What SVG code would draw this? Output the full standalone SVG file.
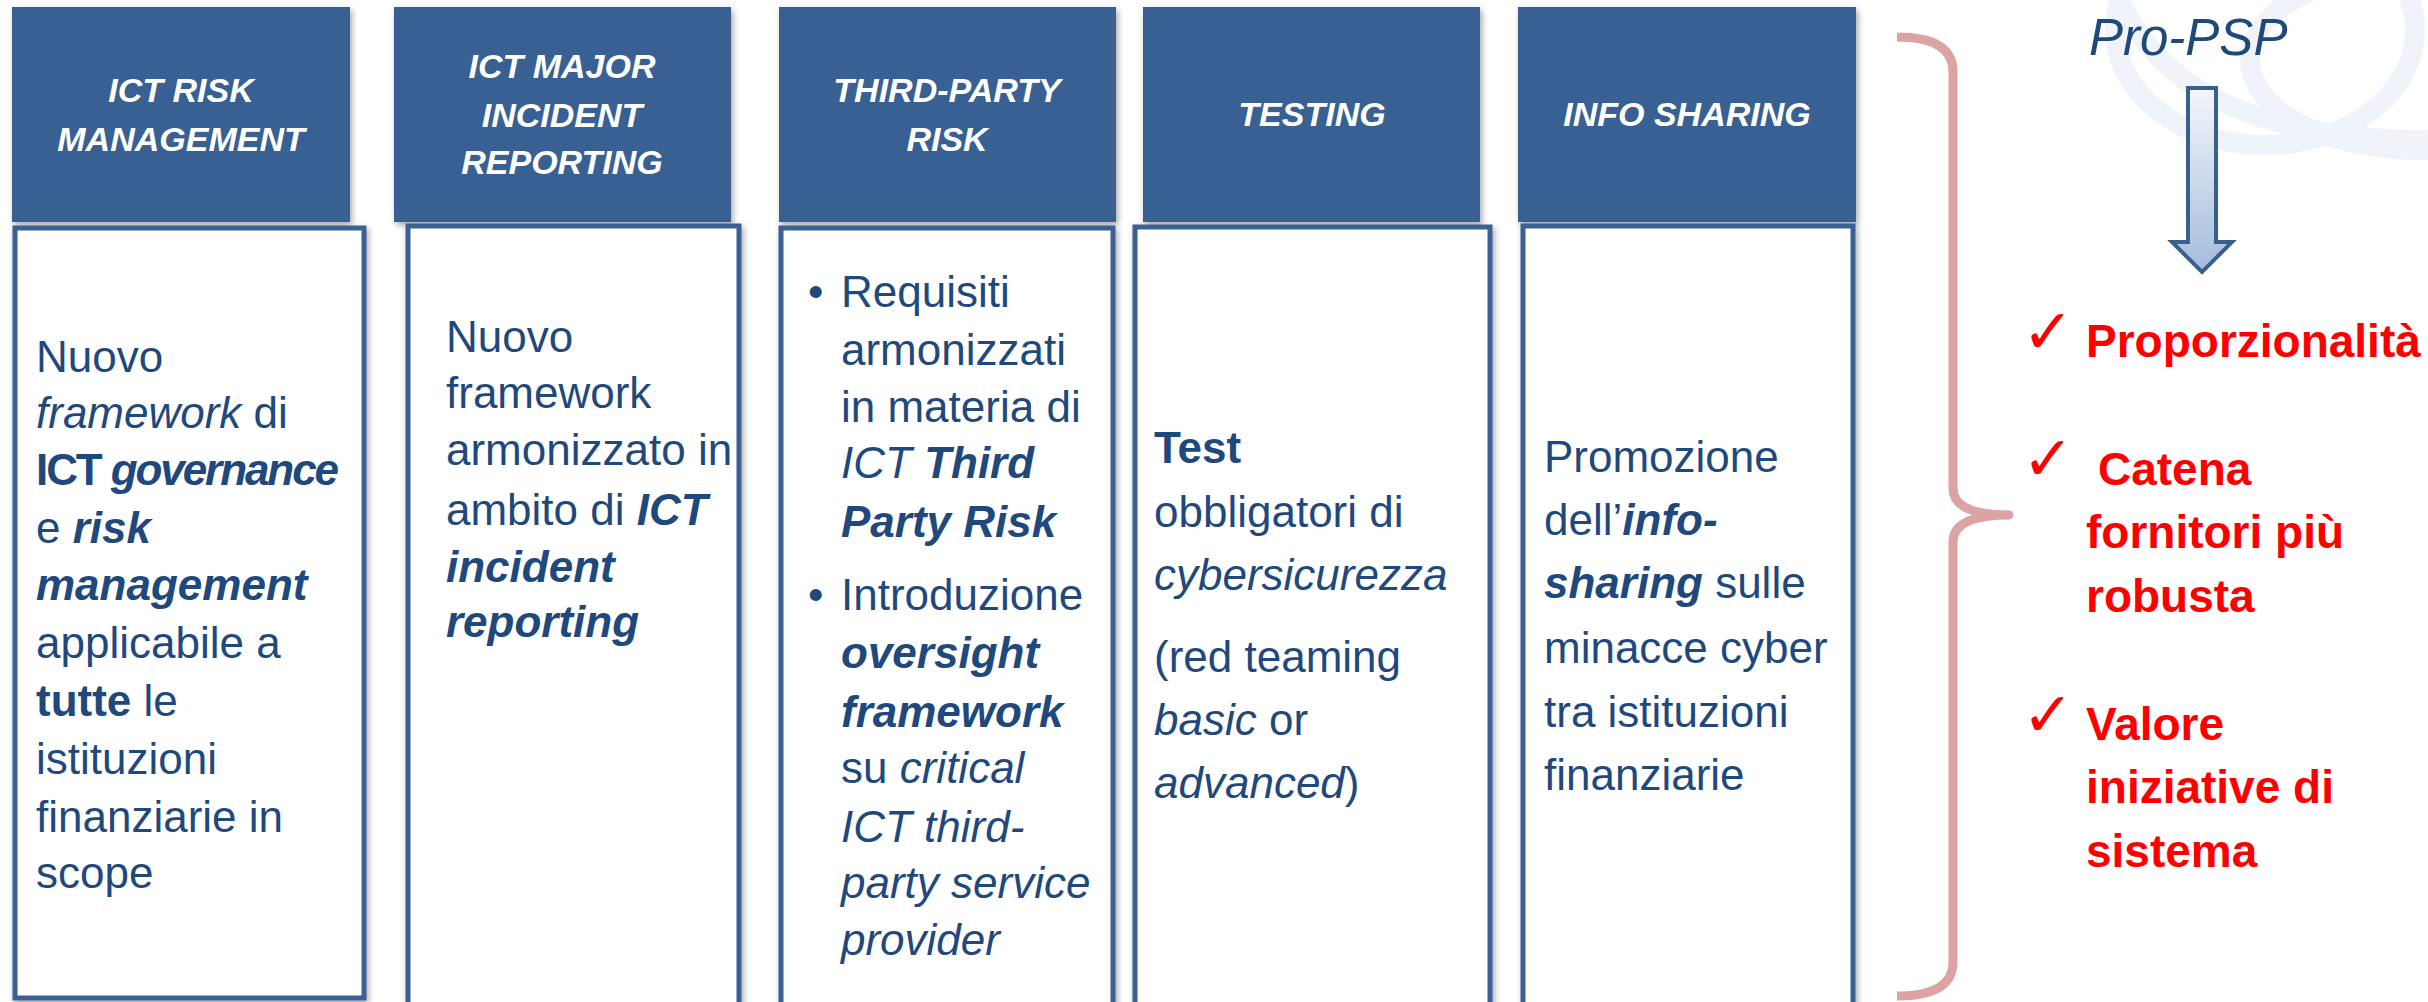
<svg xmlns="http://www.w3.org/2000/svg" width="2428" height="1002" viewBox="0 0 2428 1002">
<defs>
<style>
.hdr{fill:#376092;}
.body{fill:#ffffff;stroke:#3A6194;stroke-width:5;}
.ht{font-family:"Liberation Sans",Arial,sans-serif;font-size:34px;font-weight:bold;font-style:italic;fill:#ffffff;text-anchor:middle;}
.t{font-family:"Liberation Sans",Arial,sans-serif;font-size:44px;fill:#1F497D;}
.i{font-style:italic;}
.b{font-weight:bold;}
.bi{font-weight:bold;font-style:italic;}
.red{font-family:"Liberation Sans",Arial,sans-serif;font-size:46px;font-weight:bold;fill:#FF0000;}
.chk{font-family:"DejaVu Sans",sans-serif;font-size:62px;fill:#FF0000;}
.wm{fill:none;stroke:#EDF2F9;stroke-width:20;}
</style>
<filter id="sh" x="-5%" y="-5%" width="112%" height="112%">
<feDropShadow dx="2" dy="3" stdDeviation="3" flood-color="#000000" flood-opacity="0.35"/>
</filter>
<linearGradient id="ag" x1="0" y1="0" x2="0" y2="1">
<stop offset="0" stop-color="#F4F7FB"/>
<stop offset="1" stop-color="#A3BCDC"/>
</linearGradient>
</defs>
<rect x="0" y="0" width="2428" height="1002" fill="#ffffff"/>
<g id="watermark" opacity="0.8">
<ellipse class="wm" cx="2265" cy="30" rx="150" ry="115"/>
<ellipse class="wm" cx="2420" cy="60" rx="170" ry="90"/>
<path class="wm" d="M2120,0 C2160,90 2260,140 2428,140"/>
</g>

<g id="col1">
<rect class="hdr" x="12" y="7" width="338" height="215" filter="url(#sh)"/>
<text class="ht" x="181" y="102">ICT RISK</text>
<text class="ht" x="181" y="151">MANAGEMENT</text>
<rect class="body" x="15" y="228" width="349" height="770" filter="url(#sh)"/>
<text class="t" x="36" y="372">Nuovo</text>
<text class="t" x="36" y="428"><tspan class="i">framework</tspan> di</text>
<text class="t" x="36" y="485" textLength="303"><tspan class="b">ICT</tspan> <tspan class="bi">governance</tspan></text>
<text class="t" x="36" y="543">e <tspan class="bi">risk</tspan></text>
<text class="t" x="36" y="600"><tspan class="bi">management</tspan></text>
<text class="t" x="36" y="658">applicabile a</text>
<text class="t" x="36" y="716"><tspan class="b">tutte</tspan> le</text>
<text class="t" x="36" y="774">istituzioni</text>
<text class="t" x="36" y="832">finanziarie in</text>
<text class="t" x="36" y="888">scope</text>
</g>

<g id="col2">
<rect class="hdr" x="394" y="7" width="337" height="215" filter="url(#sh)"/>
<text class="ht" x="562" y="78">ICT MAJOR</text>
<text class="ht" x="562" y="127">INCIDENT</text>
<text class="ht" x="562" y="174">REPORTING</text>
<rect class="body" x="408" y="226" width="331" height="790" filter="url(#sh)"/>
<text class="t" x="446" y="352">Nuovo</text>
<text class="t" x="446" y="408">framework</text>
<text class="t" x="446" y="465">armonizzato in</text>
<text class="t" x="446" y="525">ambito di <tspan class="bi">ICT</tspan></text>
<text class="t" x="446" y="582"><tspan class="bi">incident</tspan></text>
<text class="t" x="446" y="637"><tspan class="bi">reporting</tspan></text>
</g>

<g id="col3">
<rect class="hdr" x="779" y="7" width="337" height="215" filter="url(#sh)"/>
<text class="ht" x="947" y="102">THIRD-PARTY</text>
<text class="ht" x="947" y="151">RISK</text>
<rect class="body" x="781" y="228" width="332" height="790" filter="url(#sh)"/>
<text class="t" x="808" y="307">•</text>
<text class="t" x="841" y="307">Requisiti</text>
<text class="t" x="841" y="365">armonizzati</text>
<text class="t" x="841" y="422">in materia di</text>
<text class="t" x="841" y="478"><tspan class="i">ICT</tspan> <tspan class="bi">Third</tspan></text>
<text class="t" x="841" y="537"><tspan class="bi">Party Risk</tspan></text>
<text class="t" x="808" y="610">•</text>
<text class="t" x="841" y="610">Introduzione</text>
<text class="t" x="841" y="668"><tspan class="bi">oversight</tspan></text>
<text class="t" x="841" y="727"><tspan class="bi">framework</tspan></text>
<text class="t" x="841" y="783">su <tspan class="i">critical</tspan></text>
<text class="t" x="841" y="842"><tspan class="i">ICT  third-</tspan></text>
<text class="t" x="841" y="898"><tspan class="i">party service</tspan></text>
<text class="t" x="841" y="955"><tspan class="i">provider</tspan></text>
</g>

<g id="col4">
<rect class="hdr" x="1143" y="7" width="337" height="215" filter="url(#sh)"/>
<text class="ht" x="1312" y="126">TESTING</text>
<rect class="body" x="1135" y="227" width="355" height="790" filter="url(#sh)"/>
<text class="t" x="1154" y="463"><tspan class="b">Test</tspan></text>
<text class="t" x="1154" y="527">obbligatori di</text>
<text class="t" x="1154" y="590"><tspan class="i">cybersicurezza</tspan></text>
<text class="t" x="1154" y="672">(red teaming</text>
<text class="t" x="1154" y="735"><tspan class="i">basic</tspan> or</text>
<text class="t" x="1154" y="798"><tspan class="i">advanced</tspan>)</text>
</g>

<g id="col5">
<rect class="hdr" x="1518" y="7" width="338" height="215" filter="url(#sh)"/>
<text class="ht" x="1687" y="126">INFO SHARING</text>
<rect class="body" x="1523" y="226" width="330" height="790" filter="url(#sh)"/>
<text class="t" x="1544" y="472">Promozione</text>
<text class="t" x="1544" y="535">dell’<tspan class="bi">info-</tspan></text>
<text class="t" x="1544" y="598"><tspan class="bi">sharing</tspan> sulle</text>
<text class="t" x="1544" y="663">minacce cyber</text>
<text class="t" x="1544" y="727">tra istituzioni</text>
<text class="t" x="1544" y="790">finanziarie</text>
</g>

<g id="connectors">
<path d="M1897,37 Q1953,37 1953,72 L1953,488 Q1953,515 2009,515 Q1953,515 1953,542 L1953,962 Q1953,996 1897,996" fill="none" stroke="#DCA3A2" stroke-width="9" stroke-linejoin="round"/>
<path d="M2188,88 L2216,88 L2216,242 L2232,242 L2202,272 L2172,242 L2188,242 Z" fill="url(#ag)" stroke="#3B5F8D" stroke-width="4" stroke-linejoin="miter"/>
</g>

<g id="pro-psp">
<text x="2089" y="55" font-family="Liberation Sans, Arial, sans-serif" font-size="51" font-style="italic" fill="#1F497D">Pro-PSP</text>
</g>

<g id="benefits">
<text class="chk" x="2022" y="353">✓</text>
<text class="red" x="2086" y="357">Proporzionalità</text>
<text class="chk" x="2022" y="480">✓</text>
<text class="red" x="2098" y="485">Catena</text>
<text class="red" x="2086" y="548">fornitori più</text>
<text class="red" x="2086" y="612">robusta</text>
<text class="chk" x="2022" y="736">✓</text>
<text class="red" x="2086" y="740">Valore</text>
<text class="red" x="2086" y="803">iniziative di</text>
<text class="red" x="2086" y="867">sistema</text>
</g>
</svg>
